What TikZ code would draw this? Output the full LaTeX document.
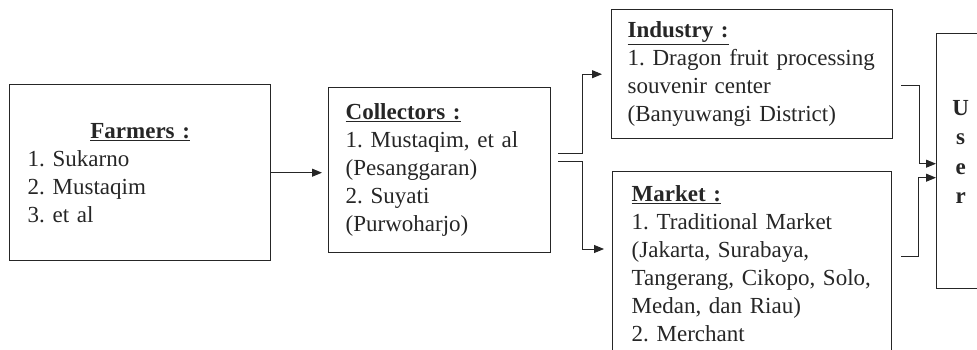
\documentclass[tikz,border=0pt]{standalone}
\usepackage{fontspec}
\setmainfont{Liberation Serif}
\usepackage{tikz}
\usetikzlibrary{arrows.meta,positioning,calc}

\tikzset{
  box/.style={draw=black!85, line width=1.4pt, anchor=north west, align=left,
    text=black!85, font=\fontsize{23}{28}\selectfont\frenchspacing},
  flow/.style={draw=black!85, line width=1pt, -{Triangle[length=10pt,width=8pt]}}
}

\begin{document}
\begin{tikzpicture}[x=1pt,y=-1pt]
\useasboundingbox (0,0) rectangle (977,350);
\clip (0,0) rectangle (977,350);
\begin{scope}
  % supply chain boxes
  \node[box, text width=225pt, inner xsep=18pt, minimum height=176pt] (farmers) at (9,84)
    {{\centering\underline{\textbf{Farmers :}}\par}1. Sukarno\\2. Mustaqim\\3. et al};
  \node[box, text width=188pt, inner xsep=17pt, minimum height=165pt] (collectors) at (328,87)
    {\underline{\textbf{Collectors :}}\\1. Mustaqim, et al\\(Pesanggaran)\\2. Suyati\\(Purwoharjo)};
  \node[box, text width=249pt, inner xsep=16pt, minimum height=129pt] (industry) at (611,9)
    {\underline{\textbf{Industry :}}\\1. Dragon fruit processing\\souvenir center\\(Banyuwangi District)};
  \node[box, text width=241pt, inner xsep=19pt, inner ysep=14pt] (market) at (612,171)
    {\underline{\textbf{Market :}}\\1. Traditional Market\\(Jakarta, Surabaya,\\Tangerang, Cikopo, Solo,\\Medan, dan Riau)\\2. Merchant};
  \node[box, align=center, minimum width=48pt, minimum height=255pt, inner sep=0pt,
    text depth=18pt, font=\fontsize{23}{29.5}\selectfont\bfseries] (user) at (936,33)
    {U\\s\\e\\r};

  % connectors
  \draw[flow, shorten >=6pt] (farmers.east) -- (farmers.east -| collectors.west);
  \draw[flow] ($(collectors.east)+(7,-17)$) -- ++(24,0) |- ([xshift=-9pt]industry.west);
  \draw[flow] ($(collectors.east)+(7,-9)$) -- ++(24,0) |- ($(market.north west)+(-8,78)$);
  \draw[flow] ($(industry.east)+(8,11)$) -- ++(18,0) |- ($(user.west)+(0,2.5)$);
  \draw[flow] ($(market.north east)+(9,85)$) -- ++(17,0) |- ($(user.west)+(0,16.5)$);
\end{scope}
\end{tikzpicture}
\end{document}
